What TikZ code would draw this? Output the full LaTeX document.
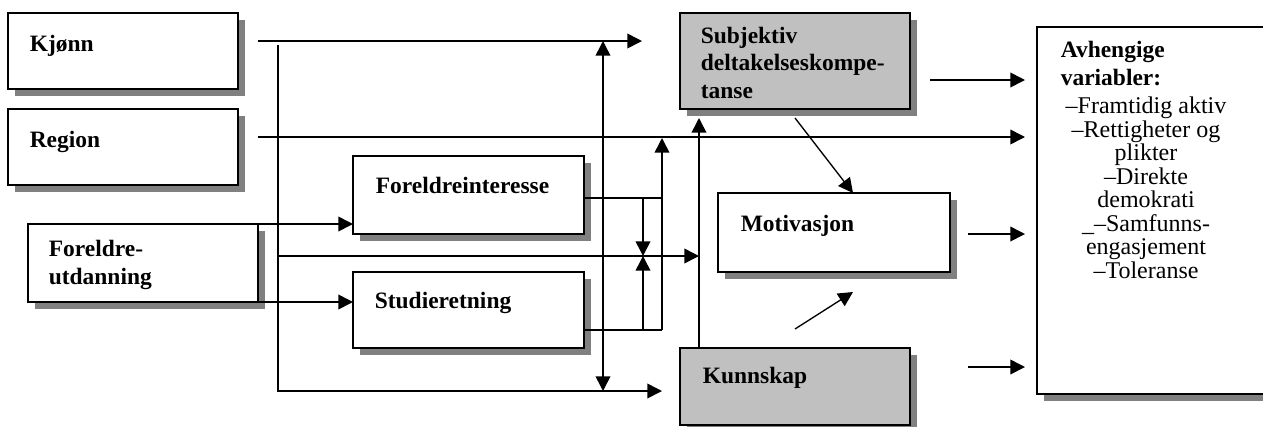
\documentclass[tikz,border=0pt]{standalone}
\usepackage{fontspec}
\setmainfont{Liberation Serif}
\usepackage{tikz}
\usetikzlibrary{arrows.meta,shadows}
\definecolor{boxgrey}{RGB}{192,192,192}
\definecolor{shadowgrey}{RGB}{128,128,128}

\begin{document}
\begin{tikzpicture}[x=0.75pt, y=-0.75pt, line width=1.2pt, >={Triangle[length=11pt,width=11pt]}]
    \tikzset{var box/.style={draw, rectangle, fill=white, line width=1.4pt, inner sep=0pt, outer sep=0pt, anchor=north west,
            drop shadow={shadow xshift=5.25pt, shadow yshift=-5.25pt, fill=shadowgrey, opacity=1}},
        grey box/.style={var box, fill=boxgrey},
        box text/.style={anchor=base west, inner sep=0pt, align=left, font=\fontsize{17.6}{20.5}\selectfont\bfseries},
        list text/.style={anchor=base, inner sep=0pt, align=center, font=\fontsize{18}{17.6}\selectfont}}
    \useasboundingbox (0,0) rectangle (1263,426);

    % Boxes
    \node (kjonn) [var box, minimum width=172.5pt, minimum height=57pt] at (8,13) {};
    \node (region) [var box, minimum width=172.5pt, minimum height=57pt] at (8,109) {};
    \node (foreldre) [var box, minimum width=172.5pt, minimum height=58.5pt] at (28,224) {};
    \node (interesse) [var box, minimum width=173.25pt, minimum height=58.5pt] at (353,156) {};
    \node (studie) [var box, minimum width=173.25pt, minimum height=57pt] at (353,272) {};
    \node (subjektiv) [grey box, minimum width=172.5pt, minimum height=72pt] at (680,13) {};
    \node (motivasjon) [var box, minimum width=174pt, minimum height=59.25pt] at (718,193) {};
    \node (kunnskap) [grey box, minimum width=172.5pt, minimum height=57.75pt] at (680,348) {};
    \node (avhengige) [var box, minimum width=187.5pt, minimum height=275.25pt] at (1037,27) {};

    % Texts (multi-line texts sit on the baseline of their last line)
    \node (kjonn text) [box text] at (29,51) {Kjønn};
    \node (region text) [box text] at (29,147) {Region};
    \node (foreldre text) [box text] at (48,284) {Foreldre-\\utdanning};
    \node (interesse text) [box text] at (375,193) {Foreldreinteresse};
    \node (studie text) [box text] at (374,308) {Studieretning};
    \node (subjektiv text) [box text] at (700,98) {Subjektiv\\deltakelseskompe-\\tanse};
    \node (motivasjon text) [box text] at (740,231) {Motivasjon};
    \node (kunnskap text) [box text] at (702,383) {Kunnskap};
    \node (avhengige text) [box text] at (1060,85) {Avhengige\\variabler:};
    \node (list) [list text] at (1146,278) {–Framtidig aktiv\\–Rettigheter og\\plikter\\–Direkte\\demokrati\\\_–Samfunns-\\engasjement\\–Toleranse};

    % Free ends of the connectors
    \coordinate (kjonn start) at (258,41);
    \coordinate (kjonn end) at (642,41);
    \coordinate (region start) at (258,137);
    \coordinate (region end) at (1025,137);
    \coordinate (trunk top) at (278,45);
    \coordinate (trunk bottom) at (278,391);
    \coordinate (bottom end) at (662,391);
    \coordinate (mid start) at (278,256);
    \coordinate (mid end) at (699,256);
    \coordinate (int out) at (584,198);
    \coordinate (int corner) at (662,198);
    \coordinate (stu out) at (584,330);
    \coordinate (stu corner) at (662,330);
    \coordinate (join top) at (643,198);
    \coordinate (join bottom) at (643,330);
    \coordinate (join mid) at (643,256);
    \coordinate (join region) at (662,138);
    \coordinate (double top) at (603,41);
    \coordinate (double bottom) at (603,391);
    \coordinate (kun up) at (699,348);
    \coordinate (sub low) at (699,118);
    \coordinate (sub diag) at (795,118);
    \coordinate (kun diag) at (795,329);
    \coordinate (mot top) at (853,193);
    \coordinate (mot low) at (853,292);
    \coordinate (sub out) at (930,80);
    \coordinate (sub in) at (1025,80);
    \coordinate (mot out) at (968,234);
    \coordinate (mot in) at (1025,234);
    \coordinate (kun out) at (968,367);
    \coordinate (kun in) at (1025,367);

    % Arrows
    \draw [->] (kjonn start) to (kjonn end);
    \draw [->] (region start) to (region end);
    \draw [->] (trunk top) -- (trunk bottom) -- (bottom end);
    \draw [->] (mid start) to (mid end);
    \draw [->] (foreldre.north east) to (foreldre.north east -| interesse.west);
    \draw [->] (foreldre.south east) to (foreldre.south east -| studie.west);
    \draw (int out) to (int corner);
    \draw (stu out) to (stu corner);
    \draw [->] (join top) to (join mid);
    \draw [->] (join bottom) to (join mid);
    \draw [->] (stu corner) to (join region);
    \draw [<->] (double top) to (double bottom);
    \draw [->] (kun up) to (sub low);
    \draw [->, line width=1pt] (sub diag) to (mot top);
    \draw [->, line width=1pt] (kun diag) to (mot low);
    \draw [->] (sub out) to (sub in);
    \draw [->] (mot out) to (mot in);
    \draw [->] (kun out) to (kun in);
\end{tikzpicture}
\end{document}
